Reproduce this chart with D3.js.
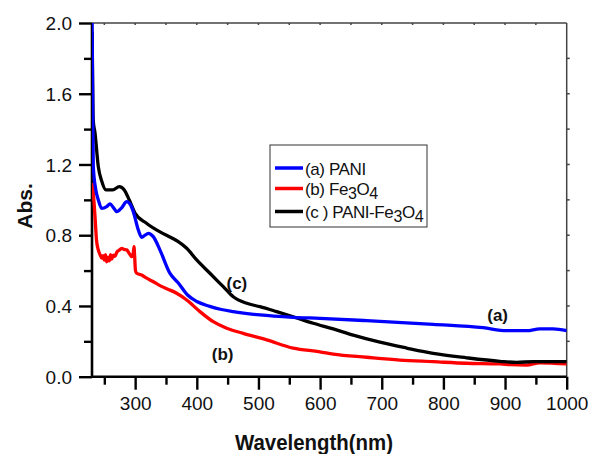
<!DOCTYPE html>
<html><head><meta charset="utf-8">
<script src="https://cdn.jsdelivr.net/npm/d3@7"></script>
<style>body{margin:0;background:#fff}svg{display:block}text{font-family:"Liberation Sans",Arial,sans-serif}</style>
</head><body><svg id="c" width="590" height="454"></svg>
<script>
// ---- data ----
const xMajorTicks = [300,400,500,600,700,800,900,1000];
const xMinorTicks = [250,350,450,550,650,750,850,950];
const yMajorTicks = [0.0,0.4,0.8,1.2,1.6,2.0];
const yMinorTicks = [0.2,0.6,1.0,1.4,1.8];
const seriesNames = ["(a) PANI","(b) Fe3O4","(c ) PANI-Fe3O4"];
const seriesColors = ["#0000ff","#ff0000","#000000"];
const paniWl  = [230,231.1,232.1,236,240.2,245.7,253.8,259.2,265,270.1,278,286.3,292,297,305.1,310.6,316,321.3,329.4,340.3,356.5,370,385,400,421,440,459,502.4,556.4,599.7,675.4,783.4,864.5,902.5,934.9,956.5,978,1000];
const paniAbs = [2.05,1.565,1.188,1.06,1.0,0.952,0.962,0.977,0.955,0.933,0.955,0.990,0.975,0.933,0.830,0.788,0.800,0.811,0.792,0.716,0.584,0.53,0.462,0.425,0.398,0.38,0.368,0.349,0.336,0.330,0.317,0.296,0.277,0.260,0.260,0.270,0.270,0.260];
const fe3o4Wl  = [231.1,233,234.9,237.3,240.2,243,245.7,248,249.9,252,253.8,256,258,260,262,264.5,267,270.5,274,278.2,282,286.3,290,294.4,297,298.1,299.2,300.5,302.5,310.6,318.7,328,340.3,353,367.3,383.6,405.1,426.7,448.4,475.3,513.3,556.4,599.7,621.3,675.4,729.4,783.4,837.6,891.6,910,934.9,956.5,1000];
const fe3o4Abs = [1.094,1.0,0.905,0.773,0.717,0.69,0.671,0.684,0.66,0.69,0.65,0.675,0.655,0.69,0.665,0.688,0.68,0.705,0.715,0.726,0.72,0.717,0.70,0.679,0.70,0.735,0.68,0.60,0.585,0.575,0.557,0.54,0.515,0.495,0.472,0.434,0.368,0.311,0.274,0.245,0.208,0.161,0.141,0.128,0.110,0.094,0.085,0.076,0.072,0.068,0.066,0.079,0.072];
const compWl  = [230.3,232,234.9,240.2,245.7,252.7,263.6,274.3,282.4,290.5,299.7,318.4,339.6,358.1,369.9,383.6,399.8,421.3,442.9,459.1,480.9,502.4,529.5,556.4,588.8,621.3,653.7,697,740.3,783.4,837.6,891.6,918.7,945.6,1000];
const compAbs = [1.95,1.45,1.378,1.188,1.107,1.056,1.056,1.075,1.056,0.999,0.926,0.868,0.820,0.787,0.764,0.726,0.660,0.585,0.509,0.452,0.415,0.396,0.368,0.339,0.302,0.27,0.235,0.195,0.162,0.132,0.107,0.087,0.081,0.085,0.085];
const curveLabels = [{t:"(a)",w:888,v:0.315},{t:"(b)",w:442,v:0.094},{t:"(c)",w:465,v:0.496}];

// ---- chart ----
const svg = d3.select("#c");
const L=92,R=566.7,T=23,B=376.7;
const x = d3.scaleLinear().domain([230,1000]).range([L,R]);
const y = d3.scaleLinear().domain([0,2]).range([B,T]);

svg.append("defs").append("clipPath").attr("id","clip").append("rect")
  .attr("x",L).attr("y",T).attr("width",R-L).attr("height",B-T);

// frame top & right
svg.append("line").attr("x1",L).attr("x2",R).attr("y1",T).attr("y2",T).attr("stroke","#444").attr("stroke-width",1.5);
svg.append("line").attr("x1",R).attr("x2",R).attr("y1",T).attr("y2",B).attr("stroke","#444").attr("stroke-width",1.5);
svg.selectAll(".tt").data(xMajorTicks.concat(xMinorTicks).filter(d=>d<1000)).enter().append("line")
  .attr("x1",d=>x(d)).attr("x2",d=>x(d)).attr("y1",T).attr("y2",T+2).attr("stroke","#444").attr("stroke-width",1.5);
svg.selectAll(".rt").data(yMajorTicks.concat(yMinorTicks).filter(d=>d>0&&d<2)).enter().append("line")
  .attr("x1",R).attr("x2",R+3).attr("y1",d=>y(d)).attr("y2",d=>y(d)).attr("stroke","#444").attr("stroke-width",1.5);

// bottom axis
const gx = svg.append("g").attr("transform",`translate(0,${B})`);
gx.call(d3.axisBottom(x).tickValues(xMajorTicks).tickSize(13).tickPadding(2).tickFormat(d3.format("d")));
gx.select(".domain").attr("stroke","#000").attr("stroke-width",2.6).attr("d",`M${L},0H${R}`);
gx.selectAll(".tick line").attr("stroke","#000").attr("stroke-width",2.4);
gx.selectAll(".tick text").attr("font-size",19).attr("fill","#111").attr("font-family","Liberation Sans, Arial, sans-serif").attr("dy",null).attr("y",33);
const gxm = svg.append("g").attr("transform",`translate(0,${B})`);
gxm.call(d3.axisBottom(x).tickValues(xMinorTicks).tickSize(8).tickFormat(""));
gxm.select(".domain").remove();
gxm.selectAll(".tick line").attr("stroke","#000").attr("stroke-width",2.4);

// left axis
const gy = svg.append("g").attr("transform",`translate(${L},0)`);
gy.call(d3.axisLeft(y).tickValues(yMajorTicks).tickSize(13).tickPadding(7).tickFormat(d3.format(".1f")));
gy.select(".domain").attr("stroke","#000").attr("stroke-width",2.6).attr("d",`M0,${T}V${B}`);
gy.selectAll(".tick line").attr("stroke","#000").attr("stroke-width",2.4);
gy.selectAll(".tick text").attr("font-size",19).attr("fill","#111").attr("font-family","Liberation Sans, Arial, sans-serif").attr("dy","0.35em").attr("x",-20);
const gym = svg.append("g").attr("transform",`translate(${L},0)`);
gym.call(d3.axisLeft(y).tickValues(yMinorTicks).tickSize(8).tickFormat(""));
gym.select(".domain").remove();
gym.selectAll(".tick line").attr("stroke","#000").attr("stroke-width",2.4);

// series
const series = [
  {wl:paniWl,ab:paniAbs,c:seriesColors[0]},
  {wl:fe3o4Wl,ab:fe3o4Abs,c:seriesColors[1]},
  {wl:compWl,ab:compAbs,c:seriesColors[2]}
];
const line = d3.line().x(d=>x(d[0])).y(d=>y(d[1])).curve(d3.curveMonotoneX);
const plot = svg.append("g").attr("clip-path","url(#clip)");
[1,2,0].forEach(i=>{
  const s=series[i];
  plot.append("path").datum(s.wl.map((w,k)=>[w,s.ab[k]]))
    .attr("d",line).attr("fill","none").attr("stroke",s.c).attr("stroke-width",3.3).attr("stroke-linejoin","round");
});

// curve labels
svg.selectAll(".cl").data(curveLabels).enter().append("text")
  .attr("x",d=>x(d.w)).attr("y",d=>y(d.v)).attr("text-anchor","middle")
  .attr("font-size",17).attr("font-weight","bold").attr("fill","#111").text(d=>d.t);

// legend
const lg = svg.append("g");
lg.append("rect").attr("x",270).attr("y",145).attr("width",157).attr("height",82).attr("fill","#fff").attr("stroke","#333").attr("stroke-width",1);
const ly=[168,188.5,211.5];
seriesNames.forEach((n,i)=>{
  lg.append("line").attr("x1",275).attr("x2",303).attr("y1",ly[i]).attr("y2",ly[i]).attr("stroke",seriesColors[i]).attr("stroke-width",3.5);
  const t = lg.append("text").attr("x",305).attr("y",ly[i]+6.5).attr("font-size",17).attr("fill","#111").attr("letter-spacing",-0.4);
  const parts = n.split(/(\d)/);
  let prevDigit=false;
  parts.forEach(p=>{
    if(!p.length) return;
    if(/^\d$/.test(p)){ t.append("tspan").attr("font-size",16).attr("dy",4).text(p); prevDigit=true; }
    else { const sp=t.append("tspan").text(p); if(prevDigit) sp.attr("dy",-4); prevDigit=false; }
  });
});

// axis titles
svg.append("text").attr("x",314).attr("y",450).attr("text-anchor","middle").attr("font-size",22).attr("font-weight","bold")
  .attr("textLength",158).attr("lengthAdjust","spacingAndGlyphs").attr("fill","#111").text("Wavelength(nm)");
svg.append("text").attr("transform","translate(31.5,206) rotate(-90)").attr("text-anchor","middle").attr("font-size",21).attr("font-weight","bold").attr("fill","#111").text("Abs.");
</script></body></html>
